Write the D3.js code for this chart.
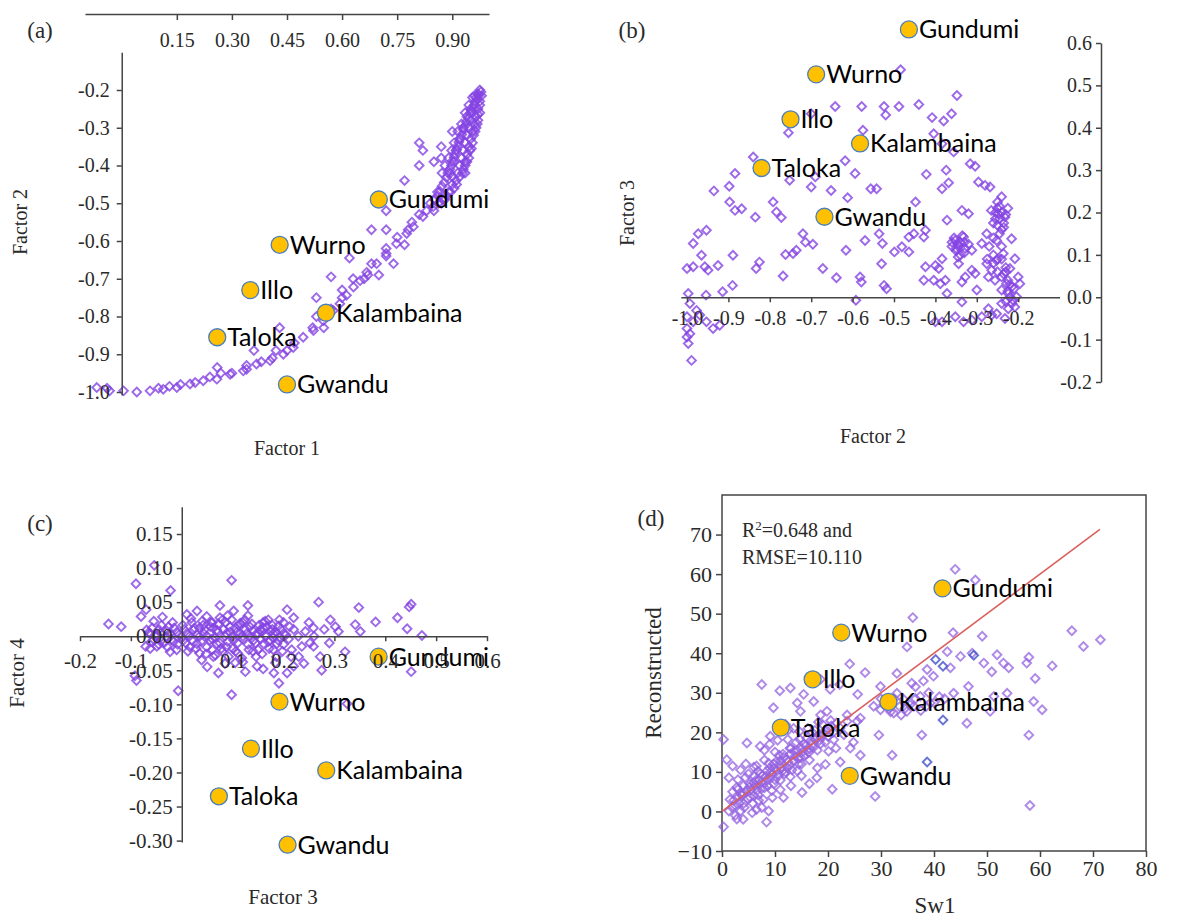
<!DOCTYPE html>
<html>
<head>
<meta charset="utf-8">
<script src="https://cdn.jsdelivr.net/npm/d3@7"></script>
<style>
  body { margin: 0; background: #fff; }
  .tick text { font-family: "Liberation Serif", serif; fill: #2a2a2a; }
  .axis path, .axis line { stroke: #444; stroke-width: 1.5; }
  .title { font-family: "Liberation Serif", serif; fill: #2a2a2a; }
  .site { font-family: Lato, sans-serif; font-size: 25px; fill: #000; }
</style>
</head>
<body>
<script>
// sites shared by all panels
const siteNames = ['Gundumi', 'Wurno', 'Illo', 'Kalambaina', 'Taloka', 'Gwandu'];
const sitesA = [[0.70, -0.49], [0.43, -0.61], [0.35, -0.73], [0.556, -0.79], [0.26, -0.855], [0.45, -0.98]];
const sitesB = [[-0.464, 0.632], [-0.688, 0.526], [-0.75, 0.42], [-0.582, 0.363], [-0.82, 0.305], [-0.668, 0.19]];
const sitesC = [[0.387, -0.03], [0.192, -0.096], [0.136, -0.165], [0.284, -0.197], [0.073, -0.235], [0.208, -0.306]];
const sitesD = [[41.6, 56.4], [22.5, 45.2], [17.1, 33.4], [31.4, 27.7], [11.1, 21.2], [24.1, 9.0]];

// tick labels
const ticksAX = [0.15, 0.30, 0.45, 0.60, 0.75, 0.90];
const ticksAY = [-1.0, -0.9, -0.8, -0.7, -0.6, -0.5, -0.4, -0.3, -0.2];
const ticksBX = [-1.0, -0.9, -0.8, -0.7, -0.6, -0.5, -0.4, -0.3, -0.2];
const ticksBY = [-0.2, -0.1, 0.0, 0.1, 0.2, 0.3, 0.4, 0.5, 0.6];
const ticksCX = [-0.2, -0.1, 0.1, 0.2, 0.3, 0.4, 0.5, 0.6];
const ticksCY = [-0.30, -0.25, -0.20, -0.15, -0.10, -0.05, 0.00, 0.05, 0.10, 0.15];
const ticksDX = [0, 10, 20, 30, 40, 50, 60, 70, 80];
const ticksDY = [-10, 0, 10, 20, 30, 40, 50, 60, 70];

// (a) Factor 1 vs Factor 2
const pointsA = [
  [0.975,-0.20],[0.97,-0.21],[0.965,-0.22],[0.975,-0.23],[0.96,-0.24],[0.97,-0.25],[0.955,-0.26],[0.965,-0.27],
  [0.95,-0.28],[0.96,-0.29],[0.945,-0.30],[0.955,-0.31],[0.94,-0.32],[0.95,-0.33],[0.935,-0.34],[0.945,-0.35],
  [0.93,-0.36],[0.94,-0.37],[0.925,-0.38],[0.935,-0.39],[0.92,-0.40],[0.93,-0.41],[0.915,-0.42],[0.91,-0.44],
  [0.90,-0.45],[0.89,-0.47],[0.88,-0.49],[0.87,-0.50],[0.85,-0.52],[0.96,-0.215],[0.95,-0.25],[0.94,-0.27],
  [0.93,-0.30],[0.92,-0.33],[0.91,-0.36],[0.905,-0.39],[0.895,-0.42],[0.975,-0.24],[0.97,-0.28],[0.965,-0.30],
  [0.955,-0.34],[0.945,-0.38],[0.935,-0.42],[0.90,-0.43],[0.86,-0.47],[0.84,-0.50],[0.83,-0.52],[0.81,-0.53],
  [0.79,-0.55],[0.78,-0.57],[0.848,-0.509],[0.82,-0.535],[0.794,-0.562],[0.776,-0.58],[0.748,-0.607],
  [0.72,-0.633],[0.694,-0.66],[0.667,-0.683],[0.649,-0.705],[0.631,-0.722],[0.612,-0.744],[0.594,-0.766],
  [0.576,-0.784],[0.549,-0.811],[0.522,-0.837],[0.494,-0.855],[0.467,-0.882],[0.44,-0.90],[0.404,-0.917],
  [0.367,-0.926],[0.331,-0.944],[0.295,-0.953],[0.259,-0.966],[0.222,-0.97],[0.186,-0.979],[0.15,-0.988],
  [0.113,-0.993],[0.077,-0.997],[0.041,-1.0],[0.005,-0.997],[-0.033,-0.997],[-0.068,-0.988],[0.68,-0.66],
  [0.66,-0.70],[0.63,-0.70],[0.60,-0.73],[0.57,-0.78],[0.53,-0.80],[0.47,-0.87],[0.42,-0.89],[0.38,-0.92],
  [0.34,-0.93],[0.27,-0.95],[0.24,-0.96],[0.20,-0.975],[0.16,-0.98],[0.13,-0.985],[0.10,-0.99],[-0.04,-0.99],
  [0.81,-0.34],[0.82,-0.36],[0.85,-0.39],[0.81,-0.40],[0.87,-0.35],[0.90,-0.31],[0.87,-0.38],[0.77,-0.44],
  [0.72,-0.52],[0.68,-0.57],[0.72,-0.57],[0.75,-0.59],[0.72,-0.62],[0.77,-0.61],[0.72,-0.64],[0.74,-0.66],
  [0.62,-0.645],[0.57,-0.695],[0.67,-0.69],[0.70,-0.69],[0.60,-0.75],[0.53,-0.75],[0.52,-0.83],[0.55,-0.83],
  [0.43,-0.83],[0.45,-0.89],[0.36,-0.89],[0.41,-0.91],[0.26,-0.935],[0.30,-0.95],[0.34,-0.94],
  [0.978,-0.205],[0.972,-0.215],[0.968,-0.225],[0.962,-0.232],[0.958,-0.245],[0.952,-0.255],[0.948,-0.262],
  [0.944,-0.275],[0.938,-0.285],[0.935,-0.295],[0.93,-0.305],[0.926,-0.318],[0.922,-0.328],[0.918,-0.338],
  [0.915,-0.348],[0.912,-0.358],[0.908,-0.368],[0.905,-0.378],[0.90,-0.388],[0.898,-0.40],[0.893,-0.41],
  [0.888,-0.42],[0.884,-0.432],[0.878,-0.445],[0.872,-0.455],[0.866,-0.468],[0.86,-0.48],[0.852,-0.49],
  [0.98,-0.215],[0.975,-0.26],[0.97,-0.265],[0.968,-0.29],[0.962,-0.31],[0.958,-0.32],[0.952,-0.355],
  [0.948,-0.36],[0.94,-0.39],[0.935,-0.40],[0.928,-0.42],[0.92,-0.43],[0.912,-0.45],[0.905,-0.46],
  [0.895,-0.47],[0.885,-0.48],[0.874,-0.49],[0.862,-0.50],[0.955,-0.22],[0.945,-0.24],[0.935,-0.26],
  [0.925,-0.29],[0.915,-0.31],[0.905,-0.34],[0.898,-0.36],[0.89,-0.38],[0.88,-0.40],[0.872,-0.42]
];

// (b) Factor 2 vs Factor 3
const pointsB = [
  [-0.484,0.537],[-0.348,0.476],[-0.44,0.455],[-0.488,0.45],[-0.524,0.45],[-0.578,0.45],[-0.642,0.45],
  [-0.52,0.43],[-0.408,0.424],[-0.38,0.416],[-0.361,0.433],[-0.70,0.433],[-0.575,0.394],[-0.755,0.388],
  [-0.404,0.386],[-0.384,0.362],[-0.356,0.343],[-0.84,0.331],[-0.618,0.322],[-0.316,0.315],[-0.304,0.309],
  [-0.884,0.292],[-0.752,0.276],[-0.594,0.292],[-0.422,0.29],[-0.374,0.30],[-0.368,0.27],[-0.69,0.284],
  [-0.898,0.262],[-0.70,0.26],[-0.652,0.252],[-0.935,0.251],[-0.556,0.256],[-0.542,0.256],[-0.384,0.256],
  [-0.296,0.272],[-0.28,0.264],[-0.268,0.26],[-0.612,0.235],[-0.897,0.225],[-0.792,0.225],[-0.448,0.225],
  [-0.24,0.237],[-0.884,0.205],[-0.868,0.209],[-0.784,0.201],[-0.772,0.188],[-0.835,0.189],[-0.336,0.205],
  [-0.32,0.197],[-0.248,0.197],[-0.232,0.189],[-0.372,0.182],[-0.424,0.158],[-0.428,0.142],[-0.953,0.158],
  [-0.973,0.150],[-0.985,0.127],[-0.72,0.150],[-0.714,0.130],[-0.696,0.125],[-0.57,0.134],[-0.536,0.150],
  [-0.528,0.127],[-0.464,0.142],[-0.452,0.150],[-0.616,0.111],[-0.481,0.119],[-0.499,0.107],[-0.464,0.107],
  [-0.762,0.101],[-0.744,0.103],[-0.736,0.111],[-0.352,0.134],[-0.344,0.119],[-0.332,0.142],[-0.328,0.115],
  [-0.312,0.111],[-0.288,0.127],[-0.276,0.150],[-0.252,0.134],[-0.236,0.103],[-0.216,0.138],[-0.208,0.091],
  [-0.965,0.099],[-0.957,0.072],[-0.949,0.064],[-0.925,0.075],[-0.889,0.099],[-1.0,0.068],[-0.985,0.072],
  [-0.833,0.068],[-0.825,0.083],[-0.672,0.068],[-0.53,0.079],[-0.424,0.072],[-0.40,0.075],[-0.392,0.068],
  [-0.384,0.091],[-0.344,0.079],[-0.312,0.064],[-0.276,0.079],[-0.264,0.064],[-0.252,0.087],[-0.22,0.068],
  [-0.768,0.050],[-0.639,0.046],[-0.582,0.048],[-0.579,0.036],[-0.428,0.040],[-0.404,0.040],[-0.388,0.032],
  [-0.376,0.040],[-0.336,0.036],[-0.328,0.048],[-0.304,0.056],[-0.272,0.048],[-0.256,0.040],[-0.24,0.048],
  [-0.228,0.032],[-0.20,0.048],[-0.196,0.032],[-0.89,0.028],[-0.914,0.013],[-0.954,0.005],[-0.997,0.009],
  [-0.524,0.028],[-0.518,0.020],[-0.372,0.009],[-0.30,0.017],[-0.24,0.017],[-0.224,0.009],[-0.204,0.001],
  [-0.212,-0.007],[-0.592,-0.007],[-0.336,-0.011],[-0.24,-0.015],[-0.224,-0.027],[-0.208,-0.023],
  [-0.272,-0.027],[-0.264,-0.042],[-0.252,-0.039],[-0.288,-0.046],[-0.312,-0.054],[-0.352,-0.046],
  [-0.332,-0.058],[-0.384,-0.058],[-0.40,-0.058],[-0.232,-0.050],[-0.993,-0.015],[-0.977,-0.031],
  [-0.969,-0.042],[-1.0,-0.046],[-0.985,-0.058],[-0.953,-0.058],[-0.937,-0.074],[-0.921,-0.066],
  [-0.993,-0.086],[-0.997,-0.109],[-0.989,-0.149],[-1.0,-0.094],[-1.0,-0.074],
  [-0.245,0.185],[-0.25,0.17],[-0.24,0.16],[-0.255,0.20],[-0.26,0.175],[-0.235,0.175],[-0.25,0.21],
  [-0.345,0.125],[-0.35,0.11],[-0.34,0.10],[-0.355,0.14],[-0.36,0.12],[-0.33,0.13],[-0.26,0.10],[-0.25,0.09],
  [-0.24,0.12],[-0.23,0.06],[-0.22,0.03],[-0.21,0.02],[-0.225,0.015],[-0.23,-0.01],
  [-0.24,0.20],[-0.245,0.215],[-0.23,0.195],[-0.255,0.185],[-0.235,0.165],[-0.245,0.15],[-0.26,0.14],
  [-0.25,0.225],[-0.225,0.21],[-0.265,0.205],[-0.34,0.13],[-0.35,0.115],[-0.345,0.095],[-0.33,0.105],
  [-0.36,0.13],[-0.335,0.145],[-0.32,0.125],[-0.27,0.12],[-0.275,0.09],[-0.26,0.08],[-0.235,0.055],
  [-0.225,0.04],[-0.215,0.025],[-0.22,0.0],[-0.215,-0.015],[-0.23,0.07],[-0.24,0.09],[-0.25,0.06]
];

// (c) Factor 3 vs Factor 4
const pointsC = [
  [-0.144,0.018],[-0.119,0.014],[-0.09,0.077],[-0.054,0.104],[-0.022,0.067],[-0.07,0.039],[-0.08,0.029],
  [-0.089,-0.065],[-0.007,-0.08],[0.098,0.082],[0.098,-0.086],[0.269,0.05],[0.348,0.042],[0.381,0.021],
  [0.424,0.027],[0.451,0.047],[0.447,0.043],[0.472,0.001],[0.443,0.011],[0.451,-0.052],[0.321,-0.023],
  [0.325,-0.099],[0.207,0.039],[0.22,0.027],[0.292,0.024],[0.302,0.014],[0.341,0.017],[0.351,0.007],
  [0.308,0.007],[0.259,0.012],[0.243,0.007],[0.229,0.0],[0.252,-0.01],[0.272,-0.03],[0.275,-0.05],
  [0.259,-0.015],[0.236,-0.015],[0.216,-0.02],[0.207,-0.054],[0.191,-0.069],[0.22,-0.044],[0.181,-0.054],
  [0.184,-0.039],[0.148,-0.044],[0.125,-0.052],[0.105,-0.039],[0.072,-0.054],[0.062,-0.03],[0.039,-0.035],
  [0.075,0.027],[0.102,0.037],[0.049,0.029],[0.03,0.037],[0.01,0.032],[-0.026,0.014],[-0.042,0.005],
  [-0.055,-0.005],[-0.071,-0.015],[-0.049,-0.015],[-0.023,-0.023],[-0.092,-0.058],
  [0.154,0.009],[0.167,0.014],[0.18,0.004],[0.134,0.014],[0.115,0.019],[0.128,0.004],[0.095,0.014],
  [0.088,0.004],[0.069,0.009],[0.056,0.014],[0.043,0.004],[0.023,0.009],[0.01,0.004],[0.0,-0.001],
  [-0.01,0.006],[-0.023,0.004],[-0.03,-0.001],[-0.049,0.002],[-0.062,0.004],[-0.069,0.009],
  [0.141,-0.006],[0.161,-0.011],[0.174,-0.006],[0.193,-0.001],[0.2,0.004],[0.187,-0.011],[0.102,-0.006],
  [0.088,-0.016],[0.069,-0.011],[0.049,-0.016],[0.03,-0.011],[0.016,-0.016],[0.003,-0.006],[-0.016,-0.008],
  [0.12,0.0],[0.145,0.002],[0.06,-0.004],[0.035,0.0],[-0.04,-0.006],[0.08,-0.022],[0.11,-0.025],
  [0.15,-0.02],[0.17,0.024],[0.13,0.03],[0.06,0.02],[0.02,0.02],[-0.01,-0.02],[0.19,0.015],
  [-0.065,0.005],[-0.06,-0.008],[-0.058,0.012],[-0.05,0.0],[-0.045,0.01],[-0.04,0.016],[-0.035,-0.01],
  [-0.03,0.008],[-0.02,-0.005],[-0.015,0.012],[-0.005,0.002],[0.005,0.01],[0.008,-0.01],[0.015,0.0],
  [0.02,-0.006],[0.025,0.012],[0.03,0.003],[0.038,-0.008],[0.045,0.01],[0.05,0.0],[0.055,-0.006],
  [0.062,0.012],[0.065,-0.002],[0.07,0.006],[0.075,-0.01],[0.082,0.01],[0.085,0.0],[0.09,-0.008],
  [0.095,0.006],[0.10,0.0],[0.105,0.012],[0.11,-0.01],[0.115,0.004],[0.12,-0.004],[0.125,0.01],
  [0.13,-0.012],[0.135,0.0],[0.14,0.008],[0.145,-0.01],[0.15,0.004],[0.155,-0.004],[0.16,0.012],
  [0.165,0.0],[0.17,-0.008],[0.175,0.008],[0.18,-0.002],[0.185,0.006],[0.19,-0.006],[0.195,0.01],
  [0.20,-0.012],[0.205,0.002],[0.21,-0.004],[0.04,0.022],[0.08,0.024],[0.12,0.02],[0.16,0.02],
  [0.06,-0.02],[0.10,-0.018],[0.14,-0.022],[0.18,-0.02],[0.035,-0.025],[0.09,0.03],[0.20,0.02],
  [0.22,0.01],[0.23,-0.03],[0.25,0.02],[0.26,0.0],[0.28,0.01],[0.24,-0.04],[0.29,-0.01],
  [-0.062,-0.018],[-0.055,0.022],[-0.045,-0.012],[-0.038,0.028],[-0.028,-0.016],[-0.018,0.02],
  [-0.008,-0.012],[0.002,0.016],[0.012,-0.022],[0.018,0.026],[0.028,-0.018],[0.042,0.016],[0.048,-0.026],
  [0.058,0.02],[0.066,-0.028],[0.072,0.018],[0.078,-0.018],[0.086,0.02],[0.092,-0.03],[0.098,0.024],
  [0.106,-0.022],[0.112,0.016],[0.118,-0.032],[0.124,0.024],[0.132,-0.02],[0.138,0.018],[0.146,-0.03],
  [0.152,0.016],[0.158,-0.026],[0.164,0.022],[0.172,-0.018],[0.178,0.016],[0.186,-0.03],[0.192,0.024],
  [0.198,-0.022],[0.212,0.014],[0.215,-0.03],[0.05,-0.045],[0.085,-0.04],[0.12,-0.038],[0.16,-0.048],
  [0.13,0.045],[0.075,0.045],[0.035,0.012],[0.108,0.006],[0.158,0.007],[0.178,0.01]
];

// (d) Sw1 vs Reconstructed
const pointsD = [
  [44.0,61.2],[47.8,58.5],[36.0,49.0],[43.6,45.2],[66.0,45.7],[71.4,43.4],[68.2,41.7],[49.1,44.3],
  [34.9,41.6],[42.5,40.4],[47.2,40.0],[45.0,39.2],[51.9,39.6],[57.9,39.0],[57.5,37.5],[62.3,36.8],
  [54.1,36.3],[53.1,37.5],[50.9,35.3],[49.4,37.5],[59.1,33.6],[39.9,34.2],[38.7,35.9],[43.1,36.3],
  [46.5,31.6],[43.7,29.9],[53.8,29.9],[51.3,29.1],[58.8,27.8],[60.4,25.7],[50.6,25.3],[46.2,22.3],
  [35.8,32.4],[37.4,29.1],[39.3,27.4],[37.7,19.3],[32.1,14.2],[57.9,19.3],[58.1,1.5],[28.9,3.8],
  [29.6,19.3],[33.0,34.9],[29.9,31.6],[33.0,29.9],[34.3,28.3],[28.6,26.6],[29.9,25.7],[32.4,24.9],
  [34.9,25.3],[36.2,26.6],[31.1,27.4],[27.0,35.1],[24.1,37.3],[22.2,32.1],[25.6,29.6],[18.6,33.4],
  [20.4,30.9],[7.5,32.1],[10.9,30.5],[12.9,31.2],[15.4,29.6],[14.2,27.4],[9.7,26.2],[17.3,27.8],
  [14.8,25.3],[18.6,24.4],[19.8,25.3],[23.6,24.4],[25.5,22.8],[23.0,19.4],[21.1,18.1],[24.2,16.0],
  [20.1,15.2],[19.5,11.9],[17.9,8.5],[20.8,5.6],[15.1,4.8],[16.4,14.9],[14.7,18.2],[12.6,20.7],
  [9.1,19.0],[7.2,16.5],[4.7,17.3],[0.9,13.1],[0.3,18.2],[1.3,8.5],[0.3,-3.9],[8.4,-2.7],[8.8,0.1],
  [11.6,3.5],[5.7,-0.3],[2.8,-1.9],[1.3,0.1],[2.2,2.8],[3.5,4.5],[4.1,2.0],[4.7,5.3],[5.3,7.0],
  [6.3,7.8],[6.6,5.3],[7.2,9.5],[7.9,7.0],[8.5,10.3],[9.1,8.6],[9.7,12.0],[10.4,10.3],[11.0,12.8],
  [11.6,13.7],[12.3,11.1],[12.9,14.5],[13.5,12.8],[14.2,15.4],[14.8,13.7],[15.4,17.1],[16.0,15.4],
  [16.7,17.9],[17.3,16.2],[17.9,18.8],[18.6,17.1],[19.2,19.6],[5.3,3.6],[6.9,2.8],[9.4,5.3],[11.0,7.9],
  [12.9,8.8],[14.2,10.3],[3.5,0.1],[1.9,1.0],[6.0,11.2],[4.4,8.6],[2.8,6.1],[22.3,21.1],[23.6,22.8],
  [26.1,23.6],[24.8,17.5],[22.3,12.5],[26.1,14.2],[3.0,3.5],[4.0,6.5],[6.0,9.0],[8.0,6.0],[10.0,8.0],
  [12.0,10.0],[13.0,16.0],[15.0,12.0],[8.0,13.0],[10.0,15.0],[6.0,4.0],[3.0,8.0],[17.0,20.0],[20.0,21.0],
  [31.5,26.0],[33.5,26.5],[35.5,27.0],[37.5,25.5],[39.0,30.0],[41.0,29.0],[36.5,31.5],[38.0,33.0],
  [1.5,3.0],[2.0,5.0],[2.5,1.5],[3.2,2.2],[3.8,4.0],[4.2,1.0],[4.8,3.2],[5.5,5.5],[5.8,2.0],[6.2,6.5],
  [6.8,4.2],[7.0,8.0],[7.5,5.8],[7.8,3.0],[8.2,8.8],[8.6,6.5],[9.0,11.0],[9.5,9.5],[9.8,7.0],[10.2,12.5],
  [10.6,9.0],[11.2,11.0],[11.5,14.5],[11.8,9.5],[12.5,12.5],[12.8,16.0],[13.2,10.5],[13.8,14.0],
  [14.0,17.5],[14.5,12.0],[15.0,16.0],[15.5,14.0],[16.0,18.5],[16.5,13.0],[17.0,17.0],[17.5,20.5],
  [18.0,15.5],[18.5,19.0],[19.0,22.0],[19.5,17.5],[20.0,19.0],[20.5,23.0],[21.0,20.0],[21.5,16.0],
  [5.0,9.5],[6.5,11.5],[8.0,15.5],[9.0,17.0],[10.5,18.0],[12.0,22.0],[13.5,21.0],[4.5,12.0],[3.5,10.5],
  [2.0,11.5],[7.5,1.0],[9.5,3.5],[11.0,5.5],[13.0,6.5],[15.0,9.0],[16.5,7.0],[18.0,11.0],[2.5,-1.0],
  [4.0,-2.0],[6.5,0.5],
  [5.2,6.2],[6.0,7.2],[7.0,6.8],[7.6,9.0],[8.4,8.0],[9.2,10.0],[9.8,10.8],[10.8,11.8],[11.4,10.2],
  [12.2,13.2],[12.8,11.6],[13.6,15.2],[14.4,13.4],[15.2,15.0],[15.8,16.6],[16.6,15.8],[17.6,18.2],
  [18.4,18.0],[19.4,20.4],[20.6,21.6],[21.6,22.4],[4.0,4.6],[3.0,5.6],[6.8,10.2],[8.8,12.2],
  [10.8,14.2],[12.4,18.2],[14.6,20.2],[16.2,21.0],[18.2,22.6],[30.5,27.0],[32.5,28.5],[34.5,26.0],
  [36.5,28.5],[38.5,26.5],[40.0,27.5],[42.0,28.5],[30.0,28.5],[31.8,25.2],[33.8,24.4]
];
const blueD = [[40.3, 38.4], [41.7, 36.7], [41.7, 23.1], [38.7, 12.5], [47.5, 39.5]];

const W = 1196, H = 918;
const purple = '#8544e2';
const svg = d3.select('body').append('svg').attr('width', W).attr('height', H);

function diamonds(g, data, x, y, color, opacity) {
  g.selectAll(null)
    .data(data)
    .enter()
    .append('path')
    .attr('d', d3.symbol().type(d3.symbolSquare).size(38))
    .attr('transform', d => `translate(${x(d[0])},${y(d[1])}) rotate(45)`)
    .attr('fill', 'none')
    .attr('stroke', color)
    .attr('stroke-width', 1.9)
    .attr('stroke-opacity', opacity);
}

function sites(g, data, x, y) {
  g.selectAll(null)
    .data(data)
    .enter()
    .append('circle')
    .attr('cx', d => x(d[0]))
    .attr('cy', d => y(d[1]))
    .attr('r', 8.5)
    .attr('fill', '#ffc000')
    .attr('stroke', '#4a7ebb')
    .attr('stroke-width', 1.3);
  g.selectAll(null)
    .data(data)
    .enter()
    .append('text')
    .attr('class', 'site')
    .attr('x', d => x(d[0]) + 10)
    .attr('y', d => y(d[1]))
    .attr('dy', '0.36em')
    .text((d, i) => siteNames[i]);
}

function title(txt, x, y, size, rot) {
  const t = svg.append('text')
    .attr('class', 'title')
    .attr('text-anchor', 'middle')
    .attr('dy', '0.35em')
    .style('font-size', size + 'px')
    .text(txt);
  if (rot) t.attr('transform', `translate(${x},${y}) rotate(-90)`);
  else t.attr('x', x).attr('y', y);
  return t;
}

function styleAxis(g, size) {
  g.attr('class', 'axis');
  g.selectAll('.tick text').style('font-size', size + 'px');
}

// ---------- panel (a)
const ax = d3.scaleLinear().domain([-0.1, 1.0]).range([85, 489]);
const ay = d3.scaleLinear().domain([-1.0, -0.2]).range([392, 90]);
const ga = svg.append('g');
diamonds(ga, pointsA, ax, ay, purple, 0.8);
svg.append('g')
  .attr('transform', 'translate(0,14)')
  .call(d3.axisBottom(ax).tickValues(ticksAX).tickSize(6).tickSizeOuter(0).tickPadding(13).tickFormat(d => d.toFixed(2)))
  .call(g => styleAxis(g, 20));
svg.append('g')
  .attr('transform', `translate(${ax(0)},0)`)
  .call(d3.axisLeft(ay.copy().domain([-1.008, -0.1]).range([ay(-1.008), ay(-0.1)]))
    .tickValues(ticksAY).tickSize(5).tickSizeOuter(0).tickPadding(7).tickFormat(d => d.toFixed(1)))
  .call(g => styleAxis(g, 20));
sites(ga, sitesA, ax, ay);
title('(a)', 40, 30, 23);
title('Factor 1', 287, 448, 20);
title('Factor 2', 20, 222, 20, true);

// ---------- panel (b)
const bx = d3.scaleLinear().domain([-1.0, 0]).range([687, 1101]);
const by = d3.scaleLinear().domain([-0.2, 0.6]).range([382, 43]);
const gb = svg.append('g');
diamonds(gb, pointsB, bx, by, purple, 0.8);
svg.append('g')
  .attr('transform', `translate(0,${by(0)})`)
  .call(d3.axisBottom(bx.copy().domain([-1.015, -0.1]).range([bx(-1.015), bx(-0.1)]))
    .tickValues(ticksBX).tickSize(5).tickSizeOuter(0).tickPadding(9).tickFormat(d => d.toFixed(1)))
  .call(g => styleAxis(g, 20));
svg.append('g')
  .attr('transform', `translate(${bx(0)},0)`)
  .call(d3.axisLeft(by).tickValues(ticksBY).tickSize(5).tickSizeOuter(0).tickPadding(4).tickFormat(d => d.toFixed(1)))
  .call(g => styleAxis(g, 20));
sites(gb, sitesB, bx, by);
title('(b)', 632, 30, 23);
title('Factor 2', 873, 436, 20);
title('Factor 3', 627, 213, 20, true);

// ---------- panel (c)
const cx = d3.scaleLinear().domain([-0.2, 0.6]).range([80, 487]);
const cy = d3.scaleLinear().domain([-0.3, 0.15]).range([840.6, 534]);
const gc = svg.append('g');
diamonds(gc, pointsC, cx, cy, purple, 0.8);
svg.append('g')
  .attr('transform', `translate(0,${cy(0)})`)
  .call(d3.axisBottom(cx).tickValues(ticksCX).tickSize(5).tickSizeOuter(0).tickPadding(12).tickFormat(d => d.toFixed(1)))
  .call(g => styleAxis(g, 21));
svg.append('g')
  .attr('transform', `translate(${cx(0)},0)`)
  .call(d3.axisLeft(cy.copy().domain([-0.302, 0.19]).range([cy(-0.302), cy(0.19)]))
    .tickValues(ticksCY).tickSize(5).tickSizeOuter(0).tickPadding(4).tickFormat(d => d.toFixed(2)))
  .call(g => styleAxis(g, 21));
sites(gc, sitesC, cx, cy);
title('(c)', 40, 523, 23);
title('Factor 3', 283, 897, 21);
title('Factor 4', 17, 673, 21, true);

// ---------- panel (d)
const dx = d3.scaleLinear().domain([0, 80]).range([722, 1146]);
const dy = d3.scaleLinear().domain([-10, 80]).range([851, 495]);
svg.append('rect')
  .attr('x', dx(0)).attr('y', dy(80))
  .attr('width', dx(80) - dx(0)).attr('height', dy(-10) - dy(80))
  .attr('fill', 'none').attr('stroke', '#444').attr('stroke-width', 1.5);
const gd = svg.append('g');
diamonds(gd, pointsD, dx, dy, '#9461e0', 0.75);
diamonds(gd, blueD, dx, dy, '#4b5ccc', 0.85);
gd.append('line')
  .attr('x1', dx(0)).attr('y1', dy(0))
  .attr('x2', dx(71.3)).attr('y2', dy(71.3))
  .attr('stroke', '#d9605f').attr('stroke-width', 1.6);
svg.append('g')
  .attr('transform', `translate(0,${dy(-10)})`)
  .call(d3.axisBottom(dx).tickValues(ticksDX).tickSize(6).tickSizeOuter(0).tickPadding(3))
  .call(g => styleAxis(g, 22))
  .call(g => g.select('.domain').remove());
svg.append('g')
  .attr('transform', `translate(${dx(0)},0)`)
  .call(d3.axisLeft(dy).tickValues(ticksDY).tickSize(6).tickSizeOuter(0).tickPadding(4))
  .call(g => styleAxis(g, 22))
  .call(g => g.select('.domain').remove());
sites(gd, sitesD, dx, dy);
const r2 = svg.append('text').attr('class', 'title').attr('x', 742).attr('y', 537).style('font-size', '20px');
r2.append('tspan').text('R');
r2.append('tspan').attr('dy', -7).style('font-size', '13px').text('2');
r2.append('tspan').attr('dy', 7).text('=0.648 and');
svg.append('text').attr('class', 'title').attr('x', 742).attr('y', 564).style('font-size', '20px').text('RMSE=10.110');
title('(d)', 651, 518, 23);
title('Sw1', 935, 905, 23);
title('Reconstructed', 653, 673, 23, true);
</script>
</body>
</html>
